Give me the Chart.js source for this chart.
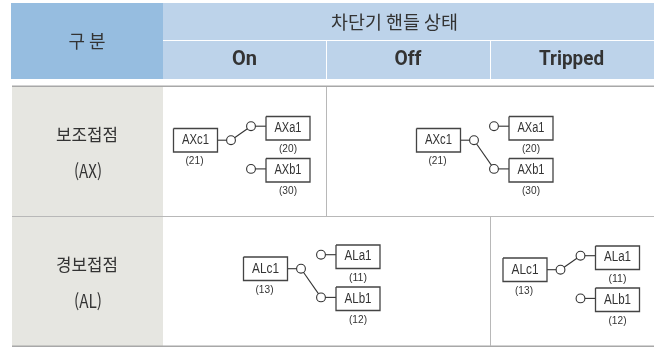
<!DOCTYPE html>
<html lang="ko">
<head>
<meta charset="utf-8">
<title>차단기 핸들 상태</title>
<script src="https://cdn.jsdelivr.net/npm/chart.js@4"></script>
<style>
    html, body { margin: 0; padding: 0; background: #fff; }
    #grafico { display: block; }
</style>
</head>
<body>
<canvas id="grafico" width="662" height="347"></canvas>
<script>
// Table text
const cornerTitle = '구 분';
const columnTitle = '차단기 핸들 상태';
const stateLabels = ['On', 'Off', 'Tripped'];
const rowLabels = ['보조접점', '경보접점'];
const rowCodes = ['(AX)', '(AL)'];

// Contacts of each row: common, a, b
const contactNames = [['AXc1', 'AXa1', 'AXb1'], ['ALc1', 'ALa1', 'ALb1']];
const contactNumbers = [['(21)', '(20)', '(30)'], ['(13)', '(11)', '(12)']];

// One diagram per body cell: which row it shows and where the switch is closed
const diagramRow = [0, 0, 1, 1];
const diagramClosed = ['a', 'b', 'b', 'a'];

// Layout, in picture pixels (the scales below run 0-662 and 0-347)
const diagramOrigin = [[173.5, 128.5], [416.5, 128.5], [243.5, 257], [503, 258]];
const boxW = 44, boxH = 23.5;
const commonPos = { x: 57.5, y: 11.7 };
const aPos = { x: 77.5, y: -2.3 };
const bPos = { x: 77.5, y: 40.4 };
const aBoxPos = { x: 92.5, y: -12 };
const bBoxPos = { x: 92.5, y: 30 };

const ink = '#333333';
const wireColor = '#333333';

// Datasets: wires and boxes are lines, terminals are points
const datasets = [];
const circles = [];

function wire(x1, y1, x2, y2) {
    datasets.push({
        type: 'line',
        data: [{ x: x1, y: y1 }, { x: x2, y: y2 }],
        borderColor: wireColor,
        borderWidth: 1.1,
        pointRadius: 0,
        order: 2
    });
}

function box(x, y) {
    datasets.push({
        type: 'line',
        data: [
            { x: x, y: y }, { x: x + boxW, y: y }, { x: x + boxW, y: y + boxH },
            { x: x, y: y + boxH }, { x: x, y: y }
        ],
        borderColor: '#444444',
        borderWidth: 1.3,
        pointRadius: 0,
        order: 2
    });
}

diagramOrigin.forEach(function (o, i) {
    const ox = o[0], oy = o[1];
    const common = { x: ox + commonPos.x, y: oy + commonPos.y };
    const a = { x: ox + aPos.x, y: oy + aPos.y };
    const b = { x: ox + bPos.x, y: oy + bPos.y };
    box(ox, oy);
    box(ox + aBoxPos.x, oy + aBoxPos.y);
    box(ox + bBoxPos.x, oy + bBoxPos.y);
    wire(ox + boxW, common.y, common.x, common.y);
    wire(a.x, a.y, ox + aBoxPos.x, a.y);
    wire(b.x, b.y, ox + bBoxPos.x, b.y);
    const closed = diagramClosed[i] === 'a' ? a : b;
    wire(common.x, common.y, closed.x, closed.y);
    circles.push(common, a, b);
});

datasets.push({
    type: 'scatter',
    data: circles,
    pointStyle: 'circle',
    pointRadius: 4.4,
    pointBackgroundColor: '#ffffff',
    pointBorderColor: wireColor,
    pointBorderWidth: 1.1,
    order: 1
});

// Table fills, rules and all the text
const tablePlugin = {
    id: 'tablePlugin',
    beforeDatasetsDraw(chart) {
        const ctx = chart.ctx;
        const sx = chart.scales.x, sy = chart.scales.y;
        function rect(x1, y1, x2, y2, color) {
            const px = sx.getPixelForValue(x1), py = sy.getPixelForValue(y1);
            ctx.fillStyle = color;
            ctx.fillRect(px, py, sx.getPixelForValue(x2) - px, sy.getPixelForValue(y2) - py);
        }
        rect(11, 3, 163, 79, '#96bde0');
        rect(163, 3, 654, 79, '#bdd3ea');
        rect(163, 40, 654, 41, '#ffffff');
        rect(326, 41, 327, 79, '#ffffff');
        rect(490, 41, 491, 79, '#ffffff');
        rect(12, 87, 163, 346, '#e6e6e1');
        rect(12, 85.5, 654, 87, '#a8a8a8');
        rect(12, 216, 654, 217, '#b8b8b8');
        rect(12, 345.5, 654, 347, '#a8a8a8');
        rect(326, 87, 327, 216, '#b8b8b8');
        rect(490, 217, 491, 346, '#b8b8b8');
    },
    afterDatasetsDraw(chart) {
        const ctx = chart.ctx;
        const sx = chart.scales.x, sy = chart.scales.y;
        function label(text, x, y, font, maxW) {
            ctx.font = font;
            ctx.fillStyle = ink;
            ctx.textAlign = 'center';
            ctx.textBaseline = 'middle';
            ctx.fillText(text, sx.getPixelForValue(x), sy.getPixelForValue(y), maxW);
        }
        const kr = '"Noto Sans CJK KR"';
        label(cornerTitle, 87, 41, '18px ' + kr, 37);
        label(columnTitle, 394.5, 22, '18.5px ' + kr, 127);
        [244.5, 408, 571.5].forEach(function (x, i) {
            label(stateLabels[i], x, 60, 'bold 21px Roboto', [25, 27, 65][i]);
        });
        [[135, 171], [265, 301]].forEach(function (ys, i) {
            label(rowLabels[i], 87, ys[0], '17px ' + kr, 62);
            label(rowCodes[i], 88, ys[1], '18px ' + kr, 28);
        });
        // Diagram labels
        diagramOrigin.forEach(function (o, i) {
            const names = contactNames[diagramRow[i]];
            const nums = contactNumbers[diagramRow[i]];
            const lab = '14px "Liberation Sans"', small = '11.5px "Liberation Sans"';
            label(names[0], o[0] + 22, o[1] + 12, lab, 27);
            label(nums[0], o[0] + 21, o[1] + 32.5, small, 18);
            label(names[1], o[0] + 114.5, o[1] - 0.5, lab, 27);
            label(nums[1], o[0] + 114.5, o[1] + 20.5, small, 18);
            label(names[2], o[0] + 114.5, o[1] + 42, lab, 27);
            label(nums[2], o[0] + 114.5, o[1] + 62.5, small, 18);
        });
    }
};

new Chart(document.getElementById('grafico').getContext('2d'), {
    data: { datasets: datasets },
    plugins: [tablePlugin],
    options: {
        responsive: false,
        animation: false,
        events: [],
        layout: { padding: 0, autoPadding: false },
        plugins: { legend: { display: false }, tooltip: { enabled: false } },
        scales: {
            x: { type: 'linear', min: 0, max: 662, display: false },
            y: { type: 'linear', min: 0, max: 347, reverse: true, display: false }
        }
    }
});
</script>
</body>
</html>
